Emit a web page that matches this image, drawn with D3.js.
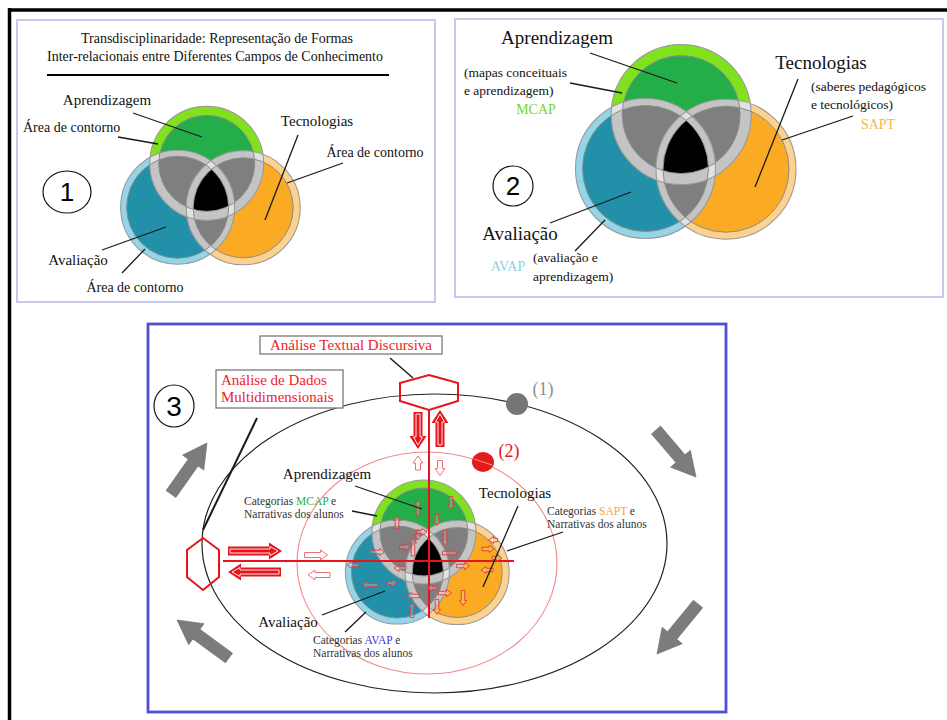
<!DOCTYPE html>
<html>
<head>
<meta charset="utf-8">
<script src="https://cdn.jsdelivr.net/npm/d3@7"></script>
<style>
  body { margin: 0; background: #fff; }
  .lead { stroke: #1a1a1a; stroke-width: 1.3; }
</style>
</head>
<body>
<svg width="947" height="720"></svg>
<script>
// labels of the three fields
const setNames = ["Aprendizagem", "Avaliação", "Tecnologias"];
const setCodes = ["MCAP", "AVAP", "SAPT"];
const setNotes = [
  ["(mapas conceituais", "e aprendizagem)"],
  ["(avaliação e", "aprendizagem)"],
  ["(saberes pedagógicos", "e tecnológicos)"],
];
const titleLines = [
  "Transdisciplinaridade: Representação de Formas",
  "Inter-relacionais entre Diferentes Campos de Conhecimento",
];
const contourLabel = "Área de contorno";
const categoryWord = "Categorias ";
const narrativeLine = "Narrativas dos alunos";
const analysisLabels = ["Análise Textual Discursiva", "Análise de Dados", "Multidimensionais"];
const orbitLabels = ["(1)", "(2)"];
const panelNumbers = ["1", "2", "3"];

// colours: green, blue, orange
const ringColors = ["#7fe21c", "#93d5e9", "#fdd28e"];
const fillColors = ["#24ae4a", "#2390aa", "#fbaa24"];
const codeColors2 = ["#78d62a", "#8fd1ea", "#fbb448"];
const codeColors3 = ["#22b04b", "#3a3ad0", "#f7a040"];

// venn geometry, in units of the radius around the centre
const vennOffsets = [[-0.04, -0.52], [-0.55, 0.25], [0.6, 0.26]];

const SERIF = "'Liberation Serif', 'Times New Roman', Times, serif";
const svg = d3.select("svg");
const defs = svg.append("defs");
const annulus = d3.arc().startAngle(0).endAngle(2 * Math.PI);

function drawVenn(key, cx, cy, R, rings) {
  const x = d3.scaleLinear().domain([-1, 1]).range([cx - R, cx + R]);
  const y = d3.scaleLinear().domain([-1, 1]).range([cy - R, cy + R]);
  const cs = vennOffsets.map((o, i) => ({ x: x(o[0]), y: y(o[1]), R: R, r: R - rings[i], i }));
  cs.forEach((c, i) => {
    defs.append("clipPath").attr("id", `${key}o${i}`)
      .append("circle").attr("cx", c.x).attr("cy", c.y).attr("r", c.R);
    defs.append("clipPath").attr("id", `${key}i${i}`)
      .append("circle").attr("cx", c.x).attr("cy", c.y).attr("r", c.r);
    defs.append("clipPath").attr("id", `${key}r${i}`)
      .append("path").attr("transform", `translate(${c.x},${c.y})`)
      .attr("d", annulus.innerRadius(c.r).outerRadius(c.R)());
  });
  const g = svg.append("g");
  g.selectAll("circle.outer").data(cs).join("circle")
    .attr("class", "outer")
    .attr("cx", (d) => d.x).attr("cy", (d) => d.y).attr("r", (d) => d.R)
    .attr("fill", (d) => ringColors[d.i]);
  g.selectAll("circle.inner").data(cs).join("circle")
    .attr("class", "inner")
    .attr("cx", (d) => d.x).attr("cy", (d) => d.y).attr("r", (d) => d.r)
    .attr("fill", (d) => fillColors[d.i]);

  const pairs = [[0, 1], [0, 2], [1, 2]];
  pairs.forEach(([a, b]) => {
    g.append("circle")
      .attr("cx", cs[a].x).attr("cy", cs[a].y).attr("r", cs[a].r)
      .attr("clip-path", `url(#${key}i${b})`)
      .attr("fill", "#7f7f7f");
  });
  g.append("g").attr("clip-path", `url(#${key}i2)`)
    .append("circle")
    .attr("cx", cs[0].x).attr("cy", cs[0].y).attr("r", cs[0].r)
    .attr("clip-path", `url(#${key}i1)`)
    .attr("fill", "#000");

  // contour rings turn grey inside the other circles
  cs.forEach((c, i) => {
    cs.forEach((d, j) => {
      if (i === j) return;
      g.append("g").attr("clip-path", `url(#${key}o${j})`)
        .append("path").attr("transform", `translate(${c.x},${c.y})`)
        .attr("d", annulus.innerRadius(c.r).outerRadius(c.R)())
        .attr("fill", "#c4c4c4");
    });
  });
  pairs.forEach(([a, b]) => {
    g.append("g").attr("clip-path", `url(#${key}r${b})`)
      .append("path").attr("transform", `translate(${cs[a].x},${cs[a].y})`)
      .attr("d", annulus.innerRadius(cs[a].r).outerRadius(cs[a].R)())
      .attr("fill", "#e2e2e2");
  });

  g.selectAll("circle.edgeO").data(cs).join("circle")
    .attr("class", "edgeO")
    .attr("cx", (d) => d.x).attr("cy", (d) => d.y).attr("r", (d) => d.R)
    .attr("fill", "none").attr("stroke", "#9a9a9a").attr("stroke-width", 1.1);
  g.selectAll("circle.edgeI").data(cs).join("circle")
    .attr("class", "edgeI")
    .attr("cx", (d) => d.x).attr("cy", (d) => d.y).attr("r", (d) => d.r)
    .attr("fill", "none").attr("stroke", "#8c8c8c").attr("stroke-width", 1);
  return g;
}

function blockArrow(x1, y1, x2, y2, sw, hw, hl) {
  const L = Math.hypot(x2 - x1, y2 - y1);
  const ux = (x2 - x1) / L, uy = (y2 - y1) / L, nx = -uy, ny = ux;
  const bx = x2 - ux * hl, by = y2 - uy * hl;
  const pts = [
    [x1 + nx * sw / 2, y1 + ny * sw / 2],
    [bx + nx * sw / 2, by + ny * sw / 2],
    [bx + nx * hw / 2, by + ny * hw / 2],
    [x2, y2],
    [bx - nx * hw / 2, by - ny * hw / 2],
    [bx - nx * sw / 2, by - ny * sw / 2],
    [x1 - nx * sw / 2, y1 - ny * sw / 2],
  ];
  return d3.line()(pts) + "Z";
}

function text(x, y, str, size, opts = {}) {
  return svg.append("text")
    .attr("x", x).attr("y", y)
    .attr("font-family", SERIF)
    .attr("font-size", size)
    .attr("text-anchor", opts.anchor || "middle")
    .attr("fill", opts.fill || "#111")
    .text(str);
}

function leader(x1, y1, x2, y2, w) {
  svg.append("line").attr("class", "lead")
    .attr("x1", x1).attr("y1", y1).attr("x2", x2).attr("y2", y2)
    .style("stroke-width", w || 1.3);
}

function numberBubble(cx, cy, rx, ry, label, size) {
  svg.append("ellipse").attr("cx", cx).attr("cy", cy).attr("rx", rx).attr("ry", ry)
    .attr("fill", "#fff").attr("stroke", "#111").attr("stroke-width", 1.2);
  svg.append("text")
    .attr("font-family", "'Liberation Sans', Arial, sans-serif")
    .attr("x", cx).attr("y", cy + size * 0.36)
    .attr("text-anchor", "middle").attr("font-size", size).attr("fill", "#000")
    .text(label);
}

// outer frame
svg.append("line").attr("x1", 8).attr("y1", 10).attr("x2", 947).attr("y2", 10)
  .attr("stroke", "#000").attr("stroke-width", 3.5);
svg.append("line").attr("x1", 9.5).attr("y1", 8).attr("x2", 9.5).attr("y2", 720)
  .attr("stroke", "#000").attr("stroke-width", 3.5);

// panel frames
const panelBoxes = [[17, 20, 418, 282], [455, 19, 488, 278]];
svg.selectAll("rect.panel").data(panelBoxes).join("rect")
  .attr("class", "panel")
  .attr("x", (d) => d[0]).attr("y", (d) => d[1])
  .attr("width", (d) => d[2]).attr("height", (d) => d[3])
  .attr("fill", "#fff").attr("stroke", "#c8c8ef").attr("stroke-width", 2);
svg.append("rect").attr("x", 148).attr("y", 324).attr("width", 578).attr("height", 388)
  .attr("fill", "#fff").attr("stroke", "#4f4fd6").attr("stroke-width", 2.8);

// ---------- panel 1 ----------
text(217, 43, titleLines[0], 14);
text(215, 61, titleLines[1], 14);
svg.append("line").attr("x1", 47).attr("y1", 75).attr("x2", 389).attr("y2", 75)
  .attr("stroke", "#000").attr("stroke-width", 2);
drawVenn("p1", 209, 193, 57, [9, 6, 7]);
text(107, 105, setNames[0], 15);
leader(133, 113, 202, 137);
text(23, 132, contourLabel, 14, { anchor: "start" });
leader(118, 137, 158, 144);
text(317, 126, setNames[2], 15);
leader(298, 135, 265, 220);
text(375, 157, contourLabel, 14);
leader(343, 163, 287, 183);
text(78, 265, setNames[1], 15);
leader(102, 250, 166, 227);
text(135, 292, contourLabel, 14);
leader(122, 273, 145, 249);
numberBubble(67, 192, 24, 21, panelNumbers[0], 26);

// ---------- panel 2 ----------
drawVenn("p2", 684, 151, 70, [11, 7, 7]);
text(557, 44, setNames[0], 19);
leader(590, 53, 677, 83);
text(464, 77, setNotes[0][0], 13.5, { anchor: "start" });
text(464, 95, setNotes[0][1], 13.5, { anchor: "start" });
leader(570, 83, 622, 93);
text(536, 114, setCodes[0], 14, { fill: codeColors2[0] });
text(821, 69, setNames[2], 19);
leader(798, 79, 755, 187);
text(811, 91, setNotes[2][0], 13.5, { anchor: "start" });
text(811, 109, setNotes[2][1], 13.5, { anchor: "start" });
text(878, 129, setCodes[2], 14, { fill: codeColors2[2] });
leader(853, 116, 782, 140);
text(520, 240, setNames[1], 19);
leader(550, 223, 631, 192);
text(508, 271, setCodes[1], 14, { fill: codeColors2[1] });
text(533, 262, setNotes[1][0], 13.5, { anchor: "start" });
text(533, 281, setNotes[1][1], 13.5, { anchor: "start" });
leader(575, 251, 605, 220);
numberBubble(513, 186, 20, 20, panelNumbers[1], 26);

// ---------- panel 3 ----------
// orbit ellipses
svg.append("ellipse").attr("cx", 434.5).attr("cy", 543.5).attr("rx", 232.5).attr("ry", 149.5)
  .attr("fill", "none").attr("stroke", "#222").attr("stroke-width", 1.2);
svg.append("ellipse").attr("cx", 427).attr("cy", 563).attr("rx", 130).attr("ry", 111)
  .attr("fill", "none").attr("stroke", "#f28a8a").attr("stroke-width", 1.1);

// rotation arrows
const grayArrows = [
  [171, 494, 207, 443],
  [656, 430, 696, 477],
  [698, 604, 657, 654],
  [229, 658, 177, 620],
];
svg.selectAll("path.rot").data(grayArrows).join("path")
  .attr("class", "rot")
  .attr("d", (d) => blockArrow(d[0], d[1], d[2], d[3], 12, 26, 24))
  .attr("fill", "#7c7c7c").attr("stroke", "#666").attr("stroke-width", 0.6);

drawVenn("p3", 426, 559, 52, [8, 6, 7]);

// analysis axes
svg.append("line").attr("x1", 429).attr("y1", 410).attr("x2", 429).attr("y2", 618)
  .attr("stroke", "#e8141c").attr("stroke-width", 2);
svg.append("line").attr("x1", 223).attr("y1", 561).attr("x2", 514).attr("y2", 561)
  .attr("stroke", "#e8141c").attr("stroke-width", 2);

// small flow arrows: x, y, direction (deg), length
const flowArrows = [
  [418, 508, 270, 16], [451, 503, 90, 13], [397, 522, 270, 13], [437, 520, 90, 11],
  [445, 538, 90, 16], [413, 547, 270, 18], [377, 552, 0, 15], [405, 547, 0, 11],
  [450, 553, 0, 15], [488, 549, 0, 12], [353, 565, 180, 12], [400, 568, 180, 12],
  [463, 566, 0, 13], [370, 585, 180, 16], [413, 596, 180, 13], [445, 593, 0, 13],
  [463, 598, 90, 15], [412, 610, 270, 15], [437, 607, 90, 15], [493, 540, 180, 9],
  [487, 570, 180, 12], [497, 558, 0, 10], [418, 535, 90, 10], [432, 588, 180, 10],
  [422, 532, 0, 10], [392, 583, 0, 10],
];
const outerFlow = [[316, 555, 0, 23], [319, 575, 180, 22], [418, 463, 270, 14], [440, 468, 90, 15]];
function flowPath(d, sw, hw, hl) {
  const a = (d[2] * Math.PI) / 180, h = d[3] / 2;
  return blockArrow(d[0] - Math.cos(a) * h, d[1] - Math.sin(a) * h,
    d[0] + Math.cos(a) * h, d[1] + Math.sin(a) * h, sw, hw, hl);
}
svg.selectAll("path.flow").data(flowArrows).join("path")
  .attr("class", "flow")
  .attr("d", (d) => flowPath(d, 3.5, 7, 5))
  .attr("fill", "rgba(255,255,255,0.2)").attr("stroke", "#e8353a").attr("stroke-width", 0.9);
svg.selectAll("path.flowOut").data(outerFlow).join("path")
  .attr("class", "flowOut")
  .attr("d", (d) => flowPath(d, 5, 10, 7))
  .attr("fill", "#fff").attr("stroke", "#f07070").attr("stroke-width", 1);

// big red arrows
const redArrows = [[418, 412, 418, 449], [440, 447, 440, 410], [228, 551, 282, 551], [281, 572, 228, 572]];
svg.selectAll("path.big").data(redArrows).join("path")
  .attr("class", "big")
  .attr("d", (d) => blockArrow(d[0], d[1], d[2], d[3], 9, 17, 13))
  .attr("fill", "#e8141c");
svg.selectAll("path.bigIn").data(redArrows).join("path")
  .attr("class", "bigIn")
  .attr("d", (d) => {
    const L = Math.hypot(d[2] - d[0], d[3] - d[1]);
    const ux = (d[2] - d[0]) / L, uy = (d[3] - d[1]) / L;
    return blockArrow(d[0] + ux * 2, d[1] + uy * 2, d[2] - ux * 4, d[3] - uy * 4, 4, 9, 8);
  })
  .attr("fill", "none").attr("stroke", "#fff").attr("stroke-width", 0.9);

// hexagons
const hexTop = [[429, 375], [458, 383], [458, 401], [429, 410], [400, 401], [400, 383]];
const hexLeft = [[203, 538], [219, 550], [219, 577], [203, 590], [187, 577], [187, 550]];
[hexTop, hexLeft].forEach((h) => {
  svg.append("path").attr("d", d3.line()(h) + "Z")
    .attr("fill", "none").attr("stroke", "#e8141c").attr("stroke-width", 2);
});

// orbit markers
svg.append("circle").attr("cx", 517).attr("cy", 404).attr("r", 11).attr("fill", "#767676");
text(543, 395, orbitLabels[0], 18, { fill: "#8a8f98" });
svg.append("ellipse").attr("cx", 483).attr("cy", 462).attr("rx", 11).attr("ry", 10).attr("fill", "#e31b1b");
svg.append("line").attr("x1", 474).attr("y1", 459).attr("x2", 492).attr("y2", 465)
  .attr("stroke", "#ffb0b0").attr("stroke-width", 0.8);
text(509, 457, orbitLabels[1], 18, { fill: "#e8141c" });

// analysis boxes
svg.append("rect").attr("x", 260).attr("y", 336).attr("width", 182).attr("height", 18)
  .attr("fill", "#fff").attr("stroke", "#7a7a7a").attr("stroke-width", 1.3);
text(351, 350, analysisLabels[0], 15, { fill: "#ee1c24" });
leader(390, 358, 413, 378, 1.5);
svg.append("rect").attr("x", 216).attr("y", 370).attr("width", 127).attr("height", 38)
  .attr("fill", "#fff").attr("stroke", "#7a7a7a").attr("stroke-width", 1.3);
text(221, 385, analysisLabels[1], 15, { anchor: "start", fill: "#ee1c24" });
text(221, 402, analysisLabels[2], 15, { anchor: "start", fill: "#ee1c24" });
leader(257, 418, 203, 530, 2);

// venn labels
text(327, 479, setNames[0], 15);
leader(355, 486, 422, 509);
const cat = (x, y, i) => {
  const t = svg.append("text").attr("x", x).attr("y", y)
    .attr("font-family", SERIF).attr("font-size", 11.5).attr("fill", "#333");
  t.append("tspan").text(categoryWord);
  t.append("tspan").attr("fill", codeColors3[i]).text(setCodes[i]);
  t.append("tspan").text(" e");
  text(x, y + 13, narrativeLine, 11.5, { anchor: "start", fill: "#333" });
};
cat(244, 505, 0);
leader(352, 511, 377, 516);
text(515, 498, setNames[2], 15);
leader(518, 506, 483, 587);
cat(547, 515, 2);
leader(563, 532, 507, 551);
text(288, 627, setNames[1], 15);
leader(322, 615, 385, 591);
cat(313, 644, 1);
leader(345, 632, 366, 612);
numberBubble(174, 406, 20, 21, panelNumbers[2], 28);
</script>
</body>
</html>
